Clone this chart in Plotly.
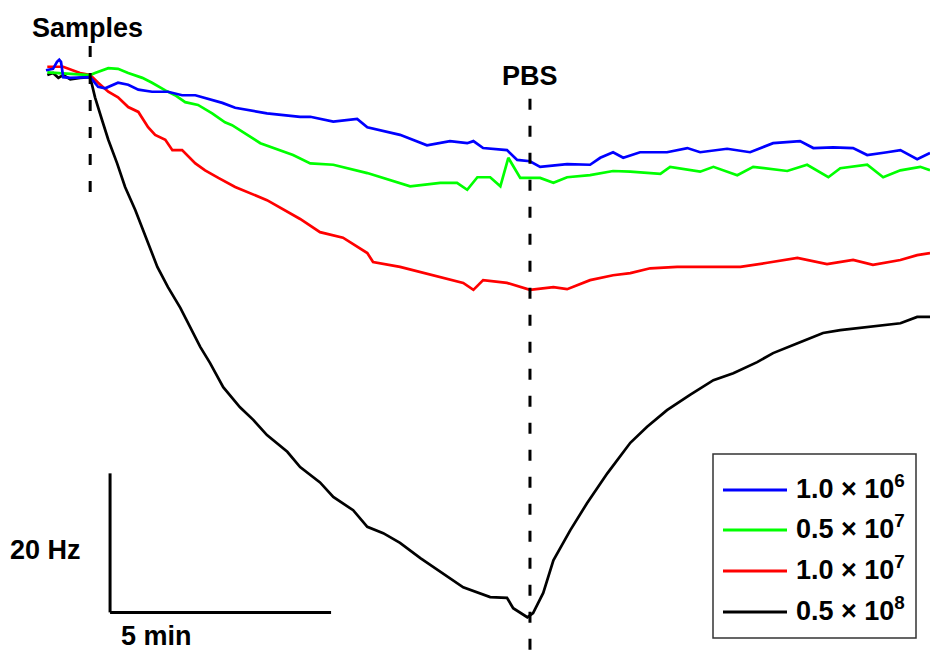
import plotly.graph_objects as go

# ---- data: time (min, relative to sample injection) and frequency shift (Hz)
t_blue = [-1.0, -0.84, -0.75, -0.70, -0.66, -0.61, -0.45, -0.23, 0.0, 0.18, 0.34, 0.63, 0.86, 1.09, 1.40,
          1.76, 2.08, 2.38, 2.76, 2.99, 3.28, 4.00, 4.75, 4.98, 5.50, 6.04, 6.27, 7.01, 7.62, 8.14,
          8.53, 8.67, 8.89, 9.43, 9.66, 9.95, 10.18, 10.79, 11.31, 11.54, 11.83, 12.06, 12.44, 13.05,
          13.51, 13.80, 14.41, 14.93, 15.45, 16.06, 16.36, 16.81, 17.26, 17.58, 18.03, 18.33, 18.71, 19.0]
f_blue = [0.4, 0.6, 1.6, 1.9, 1.6, -0.6, -0.7, -0.6, -0.6, -2.0, -2.2, -1.4, -1.7, -2.4, -2.7,
          -2.7, -3.2, -3.2, -3.9, -4.3, -5.0, -5.8, -6.3, -6.3, -7.0, -6.6, -7.8, -8.9, -10.4, -9.8,
          -10.1, -9.8, -10.8, -11.1, -12.5, -12.7, -13.5, -13.1, -13.2, -12.2, -11.4, -12.2, -11.4, -11.4,
          -10.8, -11.4, -10.9, -11.4, -10.1, -9.8, -10.8, -10.7, -10.8, -11.8, -11.4, -11.1, -12.4, -11.5]

t_green = [-0.97, -0.52, 0.0, 0.11, 0.41, 0.63, 0.86, 1.18, 1.40, 1.70, 1.92, 2.15, 2.44, 2.76, 3.05,
           3.21, 3.85, 4.59, 4.98, 5.50, 6.27, 7.24, 7.92, 8.30, 8.53, 8.76, 9.05, 9.28, 9.46, 9.73,
           10.18, 10.48, 10.79, 11.31, 11.83, 12.22, 12.90, 13.12, 13.80, 14.10, 14.64, 15.00, 15.77,
           16.22, 16.70, 16.97, 17.58, 17.94, 18.33, 18.78, 19.0]
f_green = [0.1, -0.1, -0.3, 0.0, 0.7, 0.6, 0.0, -0.7, -1.4, -2.5, -3.2, -4.2, -4.6, -5.8, -7.1,
           -7.5, -10.1, -11.8, -13.0, -13.2, -14.4, -16.3, -15.8, -15.8, -16.8, -15.0, -15.0, -16.3, -12.2, -15.1,
           -15.1, -15.8, -15.0, -14.7, -14.1, -14.2, -14.5, -13.5, -14.2, -13.5, -14.7, -13.5, -14.1,
           -13.2, -15.0, -13.7, -13.2, -15.0, -14.0, -13.5, -14.0]

t_red = [-0.97, -0.61, -0.23, 0.0, 0.18, 0.41, 0.63, 0.86, 1.09, 1.31, 1.47, 1.70, 1.86, 2.08, 2.38,
         2.60, 2.90, 3.28, 4.00, 4.75, 5.20, 5.72, 6.27, 6.40, 7.01, 7.92, 8.44, 8.67, 8.89, 9.43,
         9.95, 10.48, 10.79, 11.31, 11.83, 12.22, 12.67, 13.28, 13.80, 14.71, 15.32, 16.00, 16.67,
         17.26, 17.71, 18.33, 18.71, 19.0]
f_red = [0.9, 0.9, 0.0, -0.3, -1.4, -2.7, -3.5, -4.9, -5.6, -7.8, -8.9, -9.6, -11.1, -11.1, -13.0,
         -14.0, -15.1, -16.4, -18.3, -21.0, -22.9, -23.7, -25.9, -27.2, -27.9, -29.4, -30.2, -31.2, -29.8, -30.2,
         -31.2, -30.8, -31.1, -29.8, -29.1, -28.8, -28.1, -27.9, -27.9, -27.9, -27.3, -26.6, -27.5,
         -26.9, -27.6, -26.9, -26.2, -25.9]

t_black = [-0.97, -0.84, -0.72, -0.61, -0.45, -0.23, 0.0, 0.11, 0.27, 0.41, 0.61, 0.79, 1.02, 1.29, 1.52,
           1.76, 2.04, 2.49, 2.71, 3.01, 3.39, 3.69, 4.00, 4.46, 4.75, 5.20, 5.50, 5.95, 6.27, 6.63,
           7.01, 7.47, 7.92, 8.44, 9.05, 9.43, 9.57, 9.89, 10.02, 10.25, 10.48, 10.86, 11.24, 11.70,
           12.22, 12.60, 13.05, 13.57, 14.10, 14.55, 15.09, 15.45, 15.99, 16.58, 16.97, 17.58, 18.33,
           18.71, 19.0]
f_black = [-0.3, 0.0, -0.7, -0.3, -0.9, -0.7, -0.6, -3.5, -6.8, -9.6, -13.0, -16.4, -19.7, -24.0, -27.9,
           -30.8, -33.8, -39.4, -41.7, -45.2, -48.1, -49.9, -52.1, -54.5, -56.7, -58.9, -61.0, -62.9, -65.3, -66.2,
           -67.6, -69.8, -71.8, -74.0, -75.4, -75.5, -77.0, -78.3, -77.7, -74.8, -70.1, -65.8, -61.9, -57.6,
           -53.2, -50.9, -48.5, -46.3, -44.2, -43.2, -41.6, -40.3, -38.9, -37.4, -37.0, -36.6, -36.0,
           -35.1, -35.1]

series_names = ["1.0 × 10<sup>6</sup>", "0.5 × 10<sup>7</sup>", "1.0 × 10<sup>7</sup>", "0.5 × 10<sup>8</sup>"]
series_colors = ["#0000FF", "#00FF00", "#FF0000", "#000000"]

t_samples = 0.0      # sample injection (min)
t_pbs = 9.95         # PBS rinse (min)
scale_t = 5          # time scale bar (min)
scale_f = 20         # frequency scale bar (Hz)

X_RANGE = [-2.04, 19.0]
Y_RANGE = [-83.3, 10.5]
W, H = 930, 652
FONT = "Liberation Sans, Arial, Helvetica, sans-serif"
FS = 27

fig = go.Figure()
data = [(t_blue, f_blue), (t_green, f_green), (t_red, f_red), (t_black, f_black)]
# draw black first so coloured traces sit on top
for i in [3, 2, 1, 0]:
    tx, fy = data[i]
    fig.add_trace(go.Scatter(x=tx, y=fy, mode="lines", name=series_names[i],
                             line=dict(color=series_colors[i], width=2.7), showlegend=False))


def px(x):
    return x / W


def py(y):
    return 1 - y / H


shapes = []
annotations = []
# injection markers
shapes.append(dict(type="line", xref="x", yref="y", x0=t_samples, x1=t_samples, y0=3.9, y1=-17.3,
                   line=dict(color="black", width=3, dash="11px,16px")))
shapes.append(dict(type="line", xref="x", yref="y", x0=t_pbs, x1=t_pbs, y0=-3.7, y1=Y_RANGE[0],
                   line=dict(color="black", width=3, dash="11px,16px")))
annotations.append(dict(x=t_samples - 0.05, y=6.5, xref="x", yref="y", text="<b>Samples</b>", showarrow=False,
                        font=dict(size=FS, color="black", family=FONT), xanchor="center", yanchor="middle"))
annotations.append(dict(x=t_pbs, y=-0.4, xref="x", yref="y", text="<b>PBS</b>", showarrow=False,
                        font=dict(size=FS, color="black", family=FONT), xanchor="center", yanchor="middle"))

# scale bars
sb_t0, sb_f0 = 0.45, -77.6
shapes.append(dict(type="line", xref="x", yref="y", x0=sb_t0, x1=sb_t0, y0=sb_f0, y1=sb_f0 + scale_f,
                   line=dict(color="black", width=3)))
shapes.append(dict(type="line", xref="x", yref="y", x0=sb_t0, x1=sb_t0 + scale_t, y0=sb_f0, y1=sb_f0,
                   line=dict(color="black", width=3)))
annotations.append(dict(x=px(45), y=py(550), xref="paper", yref="paper", text="<b>%d Hz</b>" % scale_f,
                        showarrow=False, font=dict(size=FS, color="black", family=FONT),
                        xanchor="center", yanchor="middle"))
annotations.append(dict(x=px(156), y=0, xref="paper", yref="paper", text="<b>%d min</b>" % scale_t,
                        showarrow=False, font=dict(size=FS, color="black", family=FONT),
                        xanchor="center", yanchor="bottom", borderpad=0))

# legend box drawn manually
shapes.append(dict(type="rect", xref="paper", yref="paper", x0=px(713), x1=px(916), y0=py(454), y1=py(638),
                   line=dict(color="#333333", width=1.5), fillcolor="white", layer="above"))
row_y = [490, 530, 571, 612]
for i in range(4):
    shapes.append(dict(type="line", xref="paper", yref="paper", x0=px(723), x1=px(787),
                       y0=py(row_y[i]), y1=py(row_y[i]), line=dict(color=series_colors[i], width=3),
                       layer="above"))
    annotations.append(dict(x=px(794), y=py(row_y[i] - 3), xref="paper", yref="paper",
                            text="<b>" + series_names[i] + "</b>", showarrow=False,
                            font=dict(size=FS, color="black", family=FONT),
                            xanchor="left", yanchor="middle"))

fig.update_layout(
    width=W, height=H, margin=dict(l=0, r=0, t=0, b=0),
    paper_bgcolor="white", plot_bgcolor="white",
    xaxis=dict(range=X_RANGE, visible=False, fixedrange=True),
    yaxis=dict(range=Y_RANGE, visible=False, fixedrange=True),
    shapes=shapes, annotations=annotations, showlegend=False,
)

fig.write_html("out.html", config={"displayModeBar": False})
